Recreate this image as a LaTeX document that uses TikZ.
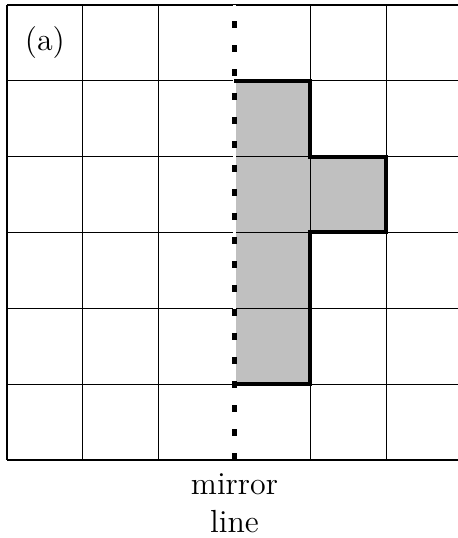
\documentclass[tikz,border=0pt]{standalone}
\usetikzlibrary{calc}
\begin{document}
\begin{tikzpicture}[
  gridline/.style={line width=0.45pt, black},
  shapefill/.style={fill={rgb,255:red,192;green,192;blue,192}},
  outline/.style={line width=1.5pt, black, line join=miter},
  mirrordash/.style={line width=1.75pt, black, line cap=butt},
  eraser/.style={line width=1.1pt, white},
  lbl/.style={font=\fontsize{12}{14.5}\selectfont, inner sep=0pt}
]
\useasboundingbox (-0.092,-1.029) rectangle (5.937,6.066);
% shaded shape
\fill[shapefill] (3,5) -- (4,5) -- (4,4) -- (5,4) -- (5,3) -- (4,3) -- (4,1) -- (3,1) -- cycle;
% grid
\draw[gridline] (0,0) grid (6,6);
% mirror line
\coordinate (mb) at (3,0);
\coordinate (mt) at (3,6);
\draw[eraser] (mb) -- (mt);
\foreach \k in {0,...,18} {
  \draw[mirrordash] ($(mb)+(0,0.3166*\k)$) -- ++(0,0.092);
}
% outline of the shape
\coordinate (p1) at (3,5);
\coordinate (p2) at (4,5);
\coordinate (p3) at (4,4);
\coordinate (p4) at (5,4);
\coordinate (p5) at (5,3);
\coordinate (p6) at (4,3);
\coordinate (p7) at (4,1);
\coordinate (p8) at (3,1);
\draw[outline] (p1) -- (p2) -- (p3) -- (p4) -- (p5) -- (p6) -- (p7) -- (p8);
% labels
\node[lbl] (a) at (0.5,5.5) {(a)};
\node[lbl, anchor=base] (m1) at (3,-0.46) {mirror};
\node[lbl, anchor=base] (m2) at (3,-0.95) {line};
\end{tikzpicture}
\end{document}
